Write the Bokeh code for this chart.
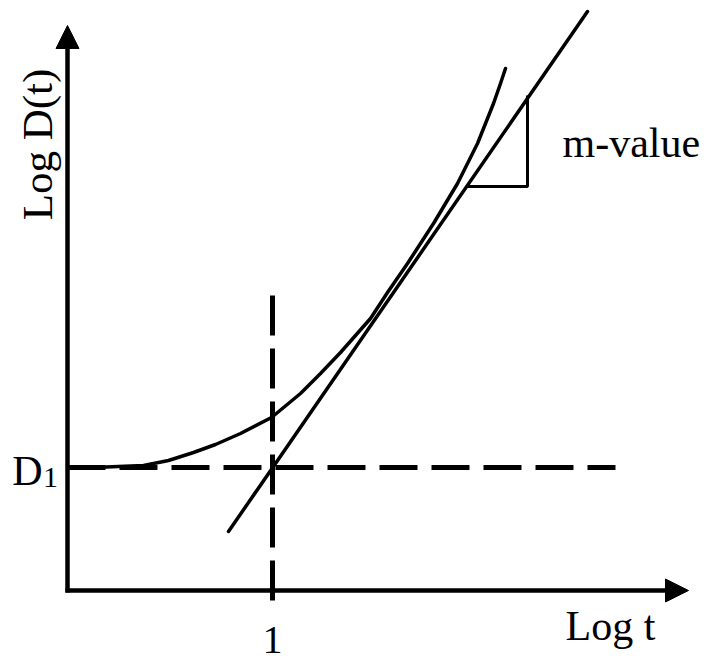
import math
from bokeh.plotting import figure
from bokeh.models import Range1d, Arrow, NormalHead
from bokeh.core.properties import value
from bokeh.embed import file_html
from bokeh.resources import INLINE

# ---- data (schematic units: origin at axis intersection) ----
curve_x = [0.26, 0.51, 0.76, 1.01, 1.26, 1.48, 1.73, 2.04, 2.33, 2.53, 2.73, 2.88,
           3.03, 3.20, 3.40, 3.53, 3.66, 3.78, 3.90, 4.00, 4.10, 4.18, 4.26, 4.33, 4.38]
curve_y = [1.23, 1.24, 1.25, 1.30, 1.38, 1.46, 1.57, 1.73, 1.97, 2.17, 2.38, 2.55,
           2.72, 2.98, 3.27, 3.47, 3.67, 3.87, 4.07, 4.27, 4.47, 4.67, 4.87, 5.07, 5.22]
tangent_x = [1.61, 5.20]
tangent_y = [0.59, 5.79]
triangle_x = [3.99, 4.60, 4.60]
triangle_y = [4.04, 4.04, 4.95]
d1_level = 1.23
x_one = 2.05
hline_x = [0.0, 5.48]
vline_y = [2.95, -0.10]
x_axis_end = 6.21
y_axis_end = 5.65
labels = {"x": "Log t", "y": "Log D(t)", "d": "D", "sub": "1", "one": "1", "m": "m-value"}

FONT = value("Liberation Serif")

p = figure(width=712, height=661, output_backend="svg", toolbar_location=None,
           x_range=Range1d(-0.67, 6.45), y_range=Range1d(-0.71, 5.90),
           min_border=0)
p.axis.visible = False
p.grid.visible = False
p.outline_line_color = None
p.background_fill_color = "white"
p.border_fill_color = "white"

# axes with arrow heads
p.add_layout(Arrow(end=NormalHead(size=23, fill_color="black", line_color="black", line_width=1),
                   x_start=-0.02, y_start=0, x_end=x_axis_end, y_end=0,
                   line_width=4.5, line_color="black"))
p.add_layout(Arrow(end=NormalHead(size=23, fill_color="black", line_color="black", line_width=1),
                   x_start=0, y_start=-0.02, x_end=0, y_end=y_axis_end,
                   line_width=4.5, line_color="black"))

# dashed guide lines
p.line(hline_x, [d1_level, d1_level], line_width=5, line_color="black", line_dash="38 14")
p.line([x_one, x_one], vline_y, line_width=5, line_color="black", line_dash="40 13")

# curve, tangent, slope triangle
p.line(curve_x, curve_y, line_width=3.5, line_color="black", line_join="round", line_cap="round")
p.line(tangent_x, tangent_y, line_width=3.5, line_color="black", line_cap="round")
p.line(triangle_x, triangle_y, line_width=3, line_color="black")

# labels
p.text(x=[4.98], y=[-0.35], text=[labels["x"]], text_font=FONT, text_font_size="42px",
       text_color="black", text_align="left", text_baseline="alphabetic")
p.text(x=[-0.30], y=[4.46], text=[labels["y"]], text_font=FONT, text_font_size="43px",
       text_color="black", text_align="center", text_baseline="alphabetic", angle=math.pi / 2)
p.text(x=[-0.25], y=[1.20], text=[labels["d"]], text_font=FONT, text_font_size="42px",
       text_color="black", text_align="right", text_baseline="alphabetic")
p.text(x=[-0.245], y=[1.13], text=[labels["sub"]], text_font=FONT, text_font_size="30px",
       text_color="black", text_align="left", text_baseline="alphabetic")
p.text(x=[x_one], y=[-0.49], text=[labels["one"]], text_font=FONT, text_font_size="40px",
       text_color="black", text_align="center", text_baseline="alphabetic")
p.text(x=[4.95], y=[4.48], text=[labels["m"]], text_font=FONT, text_font_size="42px",
       text_color="black", text_align="left", text_baseline="alphabetic")

open("out.html", "w").write(file_html(p, INLINE))
